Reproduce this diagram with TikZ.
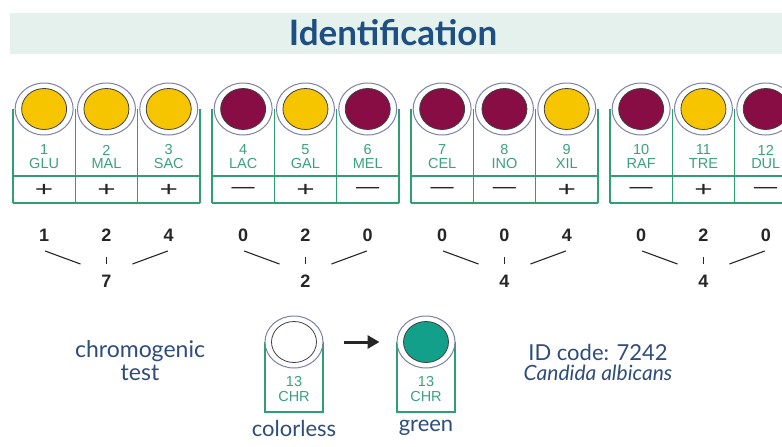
\documentclass[tikz,border=0pt]{standalone}
\usepackage{fontspec}
\setmainfont{Lato}
\setsansfont{Liberation Sans}
\usepackage{graphicx}
\usetikzlibrary{arrows.meta,positioning,calc,shapes.geometric}

\definecolor{bandbg}{HTML}{E5F1ED}
\definecolor{titleblue}{HTML}{1D4F82}
\definecolor{textblue}{HTML}{2E4D7B}
\definecolor{cupgreen}{HTML}{2E9E73}
\definecolor{labgreen}{HTML}{3AA27D}
\definecolor{ringgray}{HTML}{7D82A8}
\definecolor{yel}{HTML}{F6C500}
\definecolor{pur}{HTML}{870D44}
\definecolor{chrgreen}{HTML}{13A08A}

\newcommand{\cuppos}{\scalebox{1.5}[1]{+}}
\newcommand{\cupneg}{\scalebox{1.1}[1]{—}}

\begin{document}
\begin{tikzpicture}[x=1pt, y=-1pt]
    \tikzset{
        cupline/.style={draw=cupgreen, line width=1.4pt},
        ring/.style={ellipse, draw=ringgray, line width=1pt, fill=white,
                minimum width=58pt, minimum height=52pt, inner sep=0pt},
        disc/.style={ellipse, draw=black!75, line width=0.8pt,
                minimum width=45pt, minimum height=41pt, inner sep=0pt},
        lab/.style={font=\sffamily\fontsize{14.5}{14.5}\selectfont, text=labgreen, inner sep=0pt},
        sign/.style={font=\sffamily\fontsize{21}{21}\selectfont, text=black!85, inner sep=0pt},
        score/.style={font=\sffamily\bfseries\fontsize{18}{18}\selectfont, text=black!85, inner sep=0pt},
        tick/.style={line width=1.1pt, draw=black!85},
        note/.style={font=\fontsize{22}{20}\selectfont, text=textblue, inner sep=0pt, align=center}
    }
    \clip (0,0) rectangle (782,447);
    \fill[white] (0,0) rectangle (782,447);

    % ---- HEADER ----
    \fill[bandbg] (10,13) rectangle (782,54);
    \node[font=\bfseries\fontsize{35}{35}\selectfont, text=titleblue] (title) at (393,33) {Identification};

    % ---- CUPS 1-12 ----
    \foreach \n/\name/\col/\sg in {1/GLU/yel/\cuppos, 2/MAL/yel/\cuppos, 3/SAC/yel/\cuppos,
            4/LAC/pur/\cupneg, 5/GAL/yel/\cuppos, 6/MEL/pur/\cupneg,
            7/CEL/pur/\cupneg, 8/INO/pur/\cupneg, 9/XIL/yel/\cuppos,
            10/RAF/pur/\cupneg, 11/TRE/yel/\cuppos, 12/DUL/pur/\cupneg} {
            \pgfmathtruncatemacro\g{(\n-1)/3}
            \pgfmathtruncatemacro\i{\n-1-3*\g}
            \pgfmathsetmacro\cx{44.15+199*\g+62.3*\i}
            \draw[cupline] (\cx-31.15,109) -- (\cx-31.15,203);
            \draw[cupline] (\cx+31.15,109) -- (\cx+31.15,203);
            \draw[cupline] (\cx-31.15,176) -- (\cx+31.15,176);
            \draw[cupline] (\cx-31.15,203) -- (\cx+31.15,203);
            \node[ring] (r\n) at (\cx,109) {};
            \node[disc, fill=\col] (d\n) at (r\n) {};
            \node[lab] (n\n) at (\cx,150) {\n};
            \node[lab] (a\n) at (\cx,164) {\name};
            \node[sign] (p\n) at (\cx,190) {\sg};
        }

    % ---- SCORES ----
    \foreach \g/\a/\b/\c/\t in {0/1/2/4/7, 1/0/2/0/2, 2/0/0/4/4, 3/0/2/0/4} {
            \pgfmathsetmacro\xa{44.15+199*\g}
            \node[score] (sa\g) at (\xa,235) {\a};
            \node[score] (sb\g) at (\xa+62.3,235) {\b};
            \node[score] (sc\g) at (\xa+124.6,235) {\c};
            \node[score] (t\g) at (\xa+62.3,281) {\t};
            \draw[tick] ($(sa\g)+(1,16)$) -- ($(t\g)+(-26,-17)$);
            \draw[tick] ($(sb\g)+(0,22)$) -- ($(t\g)+(0,-17)$);
            \draw[tick] ($(sc\g)+(-1,16)$) -- ($(t\g)+(26,-17)$);
        }

    % ---- CHROMOGENIC TEST ----
    \node[note, font=\fontsize{23}{23}\selectfont] (chrom) at (140,361) {chromogenic\\test};
    \foreach \k/\cx/\col/\word in {a/294/white/colorless, b/426/chrgreen/green} {
            \draw[cupline] (\cx-29,342) -- (\cx-29,412) -- (\cx+29,412) -- (\cx+29,342);
            \node[ring] (c\k) at (\cx,342) {};
            \node[disc, fill=\col] (e\k) at (c\k) {};
            \node[lab] (m\k) at (\cx,382) {13};
            \node[lab] (h\k) at (\cx,397) {CHR};
            \node[note] (w\k) at (\cx,428) {\word};
        }
    \draw[-{Triangle[length=12pt,width=13pt]}, line width=3pt, draw=black!85,
        shorten <=20pt, shorten >=17pt] (ca) -- (cb);

    % ---- RESULT ----
    \node[note] (idc) at (598,352) {ID code: 7242};
    \node[note, font=\itshape\fontsize{21}{18}\selectfont] (spec) at (598,373) {Candida albicans};
\end{tikzpicture}
\end{document}
